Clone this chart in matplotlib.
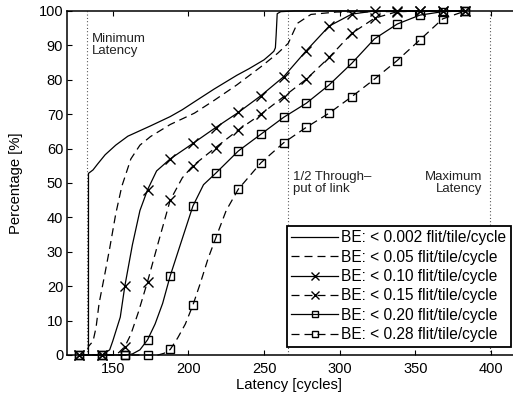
"""
Latency CDF for GT traffic under increasing BE load, MATLAB-style figure.
"""

import matplotlib
matplotlib.use("Agg")
import matplotlib.pyplot as plt

# Latency [cycles] / cumulative percentage, one pair per BE load
lat_002 = [128, 134, 134, 137, 140, 145, 152, 160, 175, 188, 196, 204, 217,
           232, 240, 250, 254, 256.5, 257.5, 258, 258.7, 261, 270, 383]
pct_002 = [0, 0, 52.8, 53.8, 55.5, 58.2, 61, 63.6, 66.6, 69.3, 71.3, 73.6, 77.3,
           81.3, 83.2, 85.8, 87.3, 88.3, 89.3, 93, 99.2, 99.8, 100, 100]

lat_005 = [128, 133, 134, 137, 139, 141, 145, 148, 152, 156, 162, 168, 175,
           188, 204, 217, 232, 248, 259, 266, 272, 281, 298, 383]
pct_005 = [0, 0, 2.5, 4, 8, 15, 24, 31, 41, 49, 57, 61, 63.5,
           67, 70.3, 74, 78.5, 83.8, 87.7, 90.6, 96.4, 99, 99.7, 100]

lat_010 = [128, 143, 148, 150, 155, 158, 163, 168, 173, 179, 188, 203, 218,
           233, 248, 263, 278, 293, 308, 323, 338, 353, 368, 383]
pct_010 = [0, 0, 1.5, 4, 11, 20, 32, 42, 48, 53.5, 57, 61.5, 66.1,
           70.5, 75.4, 80.9, 88.5, 95.6, 99.1, 100, 100, 100, 100, 100]

lat_015 = [128, 143, 150, 154, 158, 162, 167, 173, 180, 188, 196, 203, 218,
           233, 248, 263, 278, 293, 308, 323, 338, 353, 368, 383]
pct_015 = [0, 0, 0, 0.7, 2.4, 6, 12.5, 21.3, 32.5, 45, 51.5, 55, 60.3,
           65.4, 70, 75.1, 80.2, 86.5, 93.5, 97.9, 99.8, 100, 100, 100]

lat_020 = [128, 143, 158, 163, 168, 173, 178, 183, 188, 195, 203, 210, 218,
           233, 248, 263, 278, 293, 308, 323, 338, 353, 368, 383]
pct_020 = [0, 0, 0, 0.3, 1.5, 4.4, 9, 15, 23, 32.5, 43.3, 49.5, 52.8,
           59.3, 64.2, 69.1, 73.2, 78.5, 84.8, 91.9, 96.2, 98.8, 99.8, 100]

lat_028 = [128, 143, 158, 173, 180, 184, 188, 193, 198, 203, 208, 213, 218,
           225, 233, 248, 263, 278, 293, 308, 323, 338, 353, 368, 383]
pct_028 = [0, 0, 0, 0, 0, 0.5, 1.6, 5, 9, 14.5, 21, 28, 33.9,
           42, 48.2, 55.9, 61.7, 66.2, 70.3, 75.1, 80.2, 85.6, 91.6, 97.7, 100]

# sample points that carry a marker
MARK_X = [128, 143, 158, 173, 188, 203, 218, 233, 248, 263, 278, 293, 308,
          323, 338, 353, 368, 383]

labels = [
    "BE: < 0.002 flit/tile/cycle",
    "BE: < 0.05 flit/tile/cycle",
    "BE: < 0.10 flit/tile/cycle",
    "BE: < 0.15 flit/tile/cycle",
    "BE: < 0.20 flit/tile/cycle",
    "BE: < 0.28 flit/tile/cycle",
]

# reference latencies (dotted lines)
MIN_LAT = 133
HALF_TP = 266
MAX_LAT = 399

DASH = (6.4, 4.0)


def main():
    plt.rcParams["font.family"] = ["Liberation Sans", "DejaVu Sans"]
    fig = plt.figure(figsize=(5.13, 3.95), dpi=100, facecolor="white")
    ax = fig.add_axes([0.1312, 0.1013, 0.8776, 0.8709])

    series = [
        (lat_002, pct_002, "-", None),
        (lat_005, pct_005, "--", None),
        (lat_010, pct_010, "-", "x"),
        (lat_015, pct_015, "--", "x"),
        (lat_020, pct_020, "-", "s"),
        (lat_028, pct_028, "--", "s"),
    ]
    for (xs, ys, ls, mk), lab in zip(series, labels):
        kw = dict(color="black", lw=0.9, clip_on=False, zorder=3, label=lab)
        if mk is not None:
            kw.update(marker=mk, markevery=[i for i, v in enumerate(xs) if v in MARK_X],
                      mfc="none", mec="black", mew=1.0,
                      ms=6.5 if mk == "x" else 5.5)
        line, = ax.plot(xs, ys, ls, **kw)
        if ls == "--":
            line.set_dashes(DASH)

    for xv in (MIN_LAT, HALF_TP, MAX_LAT):
        ax.axvline(xv, color="#333333", lw=0.8, ls=(0, (0.8, 2.2)), zorder=1)

    ax.text(136.5, 90, "Minimum\nLatency", fontsize=9.5, ha="left", va="center",
            linespacing=1.0, color="#222222")
    ax.text(269, 50, "1/2 Through\u2013\nput of link", fontsize=9.5, ha="left",
            va="center", linespacing=1.0, color="#222222")
    ax.text(394, 50, "Maximum\nLatency", fontsize=9.5, ha="right", va="center",
            linespacing=1.0, color="#222222")

    ax.set_xlim(120, 417.5)
    ax.set_ylim(0, 100)
    ax.set_xticks([150, 200, 250, 300, 350, 400])
    ax.set_yticks(range(0, 101, 10))
    ax.tick_params(direction="in", length=3.5, width=0.8, top=True, right=True,
                   labelsize=10.5, colors="black")
    ax.tick_params(axis="x", pad=5)
    ax.tick_params(axis="y", pad=3)
    for sp in ax.spines.values():
        sp.set_linewidth(1.1)
    ax.spines["right"].set_visible(False)

    ax.set_xlabel("Latency [cycles]", fontsize=10.7)
    ax.set_ylabel("Percentage [%]", fontsize=10.7)
    ax.xaxis.set_label_coords(0.4925, -0.067)
    ax.yaxis.set_label_coords(-0.098, 0.5)

    leg = ax.legend(loc="lower right", bbox_to_anchor=(0.985, 0.024),
                    borderaxespad=0, fontsize=11.2, fancybox=False,
                    framealpha=1, edgecolor="black", handlelength=3.0,
                    handletextpad=0.2, labelspacing=0.28, borderpad=0.3,
                    markerscale=0.8)
    leg.get_frame().set_linewidth(1.3)
    for h in leg.get_lines():
        if h.get_marker() not in (None, "None", ""):
            h.set_markevery([1])
        if h.get_linestyle() == "--":
            h.set_dashes(DASH)

    fig.savefig("out.png", dpi=100, facecolor="white")
    plt.close(fig)


if __name__ == "__main__":
    main()
